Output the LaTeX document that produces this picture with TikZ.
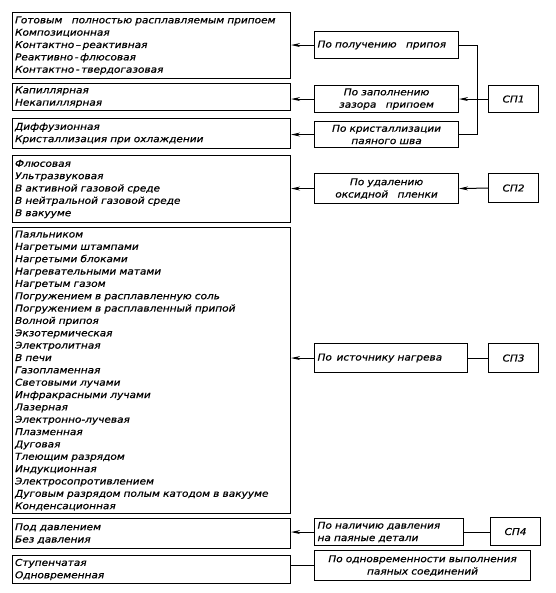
\documentclass[tikz,border=0pt]{standalone}
\usepackage{fontspec}
\setmainfont{DejaVu Sans}[ItalicFont=DejaVu Sans Oblique, WordSpace=3, ItalicFeatures={FakeStretch=1.12, FakeBold=0.6}]
\usetikzlibrary{arrows.meta}
\begin{document}
\begin{tikzpicture}[x=1pt,y=-1pt,
  every node/.style={font=\fontsize{9.4}{12.35}\selectfont\itshape},
  lbox/.style={draw, line width=1.1pt, anchor=north west, inner xsep=2.5pt, inner ysep=1pt, align=left, text width=273pt},
  mbox/.style={draw, line width=1.1pt, anchor=north west, inner xsep=3pt, inner ysep=1pt},
  sbox/.style={draw, line width=1.1pt, anchor=north west, inner sep=1pt, minimum width=50pt, align=center},
  arr/.style={line width=1pt, -{Stealth[length=9pt,width=4pt]}},
  ln/.style={line width=1pt}]
\useasboundingbox (0,0) rectangle (555,593);
% left boxes
\node[lbox, minimum height=66pt] (b1) at (12,12) {Готовым\quad полностью расплавляемым припоем\\Композиционная\\Контактно\,--\,реактивная\\Реактивно\,-\,флюсовая\\Контактно\,-\,твердогазовая};
\node[lbox, minimum height=27pt] (b2) at (12,83) {Капиллярная\\Некапиллярная};
\node[lbox, minimum height=30pt] (b3) at (12,118) {Диффузионная\\Кристаллизация при охлаждении};
\node[lbox, minimum height=67pt] (b4) at (12,155) {Флюсовая\\Ультразвуковая\\В активной газовой среде\\В нейтральной газовой среде\\В вакууме};
\node[lbox, minimum height=286pt] (b5) at (12,227) {Паяльником\\Нагретыми штампами\\Нагретыми блоками\\Нагревательными матами\\Нагретым газом\\Погружением в расплавленную соль\\Погружением в расплавленный припой\\Волной припоя\\Экзотермическая\\Электролитная\\В печи\\Газопламенная\\Световыми лучами\\Инфракрасными лучами\\Лазерная\\Электронно-лучевая\\Плазменная\\Дуговая\\Тлеющим разрядом\\Индукционная\\Электросопротивлением\\Дуговым разрядом полым катодом в вакууме\\Конденсационная};
\node[lbox, minimum height=30pt] (b6) at (12,518) {Под давлением\\Без давления};
\node[lbox, minimum height=28pt] (b7) at (12,555) {Ступенчатая\\Одновременная};
% middle boxes
\node[mbox, minimum height=27pt, text width=138pt, align=left] (m1) at (314,31) {По получению\quad припоя};
\node[mbox, minimum height=27pt, text width=138pt, align=center] (m2) at (314,85) {По заполнению\\зазора\quad припоем};
\node[mbox, minimum height=26pt, text width=138pt, align=center] (m3) at (314,121) {По кристаллизации\\паяного шва};
\node[mbox, minimum height=30pt, text width=138pt, align=center] (m4) at (314,173) {По удалению\\оксидной\quad пленки};
\node[mbox, minimum height=29pt, text width=147pt, align=left] (m5) at (314,343) {По\, источнику нагрева};
\node[mbox, minimum height=27pt, text width=143pt, align=left] (m6) at (314,518) {По наличию давления\\на паяные детали};
\node[mbox, minimum height=30pt, text width=210pt, align=center] (m7) at (314,550) {По одновременности выполнения\\паяных соединений};
% SP boxes
\node[sbox, minimum height=27pt] (sp1) at (488,85) {СП1};
\node[sbox, minimum height=29pt] (sp2) at (488,173) {СП2};
\node[sbox, minimum height=29pt] (sp3) at (488,343) {СП3};
\node[sbox, minimum height=28pt] (sp4) at (490,517) {СП4};
\coordinate (vx) at (477,98);
% connectors
\draw[arr] (m1.west) -- (m1.west -| b1.east);
\draw[arr] (m2.west) -- (m2.west -| b2.east);
\draw[arr] (m3.west) -- (m3.west -| b3.east);
\draw[arr] (m4.west) -- (m4.west -| b4.east);
\draw[arr] (m5.west) -- (m5.west -| b5.east);
\draw[arr] (m6.west) -- (m6.west -| b6.east);
\draw[ln] (b7.east |- m7.west) -- (m7.west);
\draw[ln] (m1.east) -- (m1.east -| vx) -- (m3.east -| vx) -- (m3.east);
\draw[arr] (sp1.west) -- (m2.east);
\draw[arr] (sp2.west) -- (m4.east);
\draw[ln] (sp3.west) -- (m5.east);
\draw[ln] (sp4.west) -- (m6.east -| sp4.west) -- (m6.east);
\end{tikzpicture}
\end{document}
